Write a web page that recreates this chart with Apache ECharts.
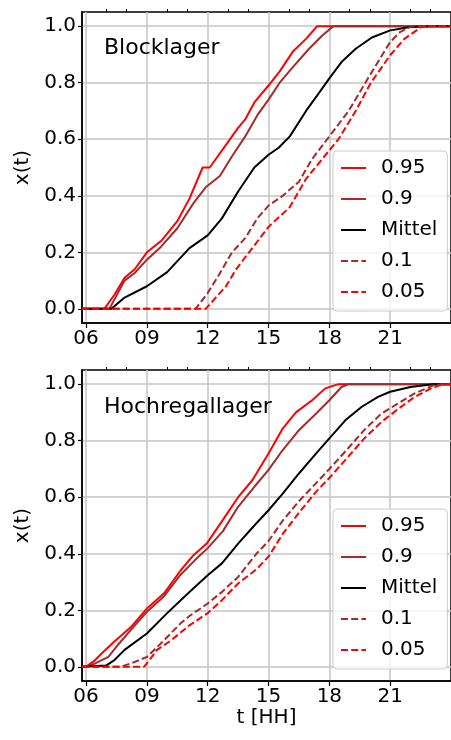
<!DOCTYPE html>
<html>
<head>
<meta charset="utf-8">
<script src="https://cdn.jsdelivr.net/npm/echarts@6/dist/echarts.min.js"></script>
<style>
  html, body { margin: 0; padding: 0; background: #fff; }
  #chart { width: 451px; height: 740px; }
</style>
</head>
<body>
<div id="chart"></div>
<script>
// Blocklager: [t in hours, x(t)]
const blockQ95 = [[5.8, 0], [6.9, 0], [7.4, 0.05], [7.9, 0.11], [8.4, 0.14], [9.0, 0.2], [9.7, 0.24], [10.5, 0.31], [11.1, 0.39], [11.75, 0.5], [12.1, 0.5], [12.4, 0.53], [12.9, 0.58], [13.5, 0.64], [13.85, 0.67], [14.3, 0.73], [15.0, 0.79], [15.55, 0.84], [16.2, 0.91], [16.85, 0.955], [17.4, 1.0], [24, 1.0]]
const blockQ90 = [[5.8, 0], [7.15, 0], [7.9, 0.1], [8.4, 0.127], [9.0, 0.174], [9.7, 0.22], [10.5, 0.285], [11.3, 0.374], [11.9, 0.43], [12.6, 0.47], [13.2, 0.54], [13.85, 0.61], [14.45, 0.685], [15.0, 0.74], [15.55, 0.8], [16.2, 0.855], [17.0, 0.92], [17.65, 0.967], [18.2, 1.0], [24, 1.0]]
const blockMean = [[5.8, 0], [7.25, 0], [7.9, 0.04], [9.0, 0.08], [10.0, 0.13], [11.1, 0.215], [12.0, 0.26], [12.7, 0.32], [13.5, 0.415], [14.3, 0.5], [15.0, 0.545], [15.5, 0.57], [16.05, 0.61], [16.85, 0.7], [17.5, 0.765], [18.0, 0.815], [18.6, 0.873], [19.3, 0.92], [20.1, 0.96], [21.0, 0.985], [22.0, 0.997], [23.1, 1.0], [24, 1.0]]
const blockQ10 = [[5.8, 0], [11.4, 0], [12.0, 0.056], [12.55, 0.12], [13.2, 0.2], [13.85, 0.25], [14.45, 0.32], [15.0, 0.365], [15.7, 0.4], [16.5, 0.45], [17.15, 0.53], [18.0, 0.61], [18.95, 0.7], [19.9, 0.815], [21.0, 0.944], [21.5, 0.98], [22.1, 1.0], [24, 1.0]]
const blockQ05 = [[5.8, 0], [11.9, 0], [12.4, 0.04], [12.9, 0.08], [13.4, 0.14], [14.2, 0.215], [15.0, 0.29], [16.05, 0.36], [16.85, 0.46], [17.65, 0.53], [18.45, 0.6], [19.3, 0.7], [20.05, 0.8], [21.0, 0.897], [21.7, 0.955], [22.6, 1.0], [24, 1.0]]

// Hochregallager
const hochQ95 = [[5.8, 0], [6.0, 0], [6.45, 0.024], [6.95, 0.06], [7.4, 0.09], [8.2, 0.14], [9.0, 0.206], [9.85, 0.26], [10.65, 0.34], [11.3, 0.395], [11.95, 0.436], [12.75, 0.52], [13.5, 0.6], [14.2, 0.66], [15.0, 0.755], [15.7, 0.843], [16.35, 0.9], [17.15, 0.943], [17.8, 0.985], [18.45, 1.0], [24, 1.0]]
const hochQ90 = [[5.8, 0], [6.0, 0], [6.45, 0.012], [7.1, 0.035], [7.6, 0.08], [8.2, 0.13], [9.0, 0.195], [9.85, 0.25], [10.65, 0.325], [11.45, 0.383], [12.0, 0.42], [12.75, 0.48], [13.5, 0.566], [14.3, 0.637], [15.0, 0.697], [15.7, 0.767], [16.5, 0.837], [17.35, 0.896], [18.0, 0.943], [18.6, 0.99], [18.95, 1.0], [24, 1.0]]
const hochMean = [[5.8, 0], [7.0, 0.005], [7.4, 0.024], [7.9, 0.06], [9.0, 0.118], [10.0, 0.19], [11.1, 0.265], [12.0, 0.324], [12.7, 0.366], [13.5, 0.436], [14.3, 0.5], [15.0, 0.554], [15.7, 0.613], [16.5, 0.684], [17.35, 0.755], [18.0, 0.808], [18.8, 0.873], [19.6, 0.92], [20.4, 0.955], [21.0, 0.973], [22.0, 0.99], [23.1, 1.0], [24, 1.0]]
const hochQ10 = [[5.8, 0], [7.7, 0], [8.2, 0.012], [9.0, 0.035], [9.85, 0.094], [10.65, 0.153], [11.1, 0.18], [12.0, 0.224], [12.7, 0.265], [13.5, 0.318], [14.4, 0.4], [15.0, 0.445], [15.7, 0.517], [16.5, 0.586], [17.35, 0.65], [18.0, 0.7], [18.95, 0.775], [19.75, 0.84], [20.55, 0.895], [21.35, 0.93], [22.15, 0.965], [23.1, 0.995], [23.6, 1.0], [24, 1.0]]
const hochQ05 = [[5.8, 0], [8.85, 0], [9.0, 0.012], [9.5, 0.06], [10.2, 0.094], [11.1, 0.147], [12.0, 0.19], [12.7, 0.236], [13.5, 0.295], [14.4, 0.345], [15.0, 0.39], [15.7, 0.47], [16.5, 0.545], [17.35, 0.62], [18.0, 0.668], [18.95, 0.745], [19.75, 0.81], [20.55, 0.865], [21.35, 0.91], [22.15, 0.952], [23.1, 0.988], [23.6, 1.0], [24, 1.0]]

const legendNames = ['0.95', '0.9', 'Mittel', '0.1', '0.05']
const panelTitles = ['Blocklager', 'Hochregallager']
const xMajorTicks = [6, 9, 12, 15, 18, 21]
const xMinorTicks = [7, 8, 10, 11, 13, 14, 16, 17, 19, 20, 22, 23]
const yMajorTicks = [0, 0.2, 0.4, 0.6, 0.8, 1.0]
const yMinorTicks = [0.1, 0.3, 0.5, 0.7, 0.9]

const FONT = 'DejaVu Sans'
const colors = ['#ff0000', '#a52a2a', '#000000', '#a52a2a', '#ff0000']
const dashed = [false, false, false, true, true]
const panels = [
  [blockQ95, blockQ90, blockMean, blockQ10, blockQ05],
  [hochQ95, hochQ90, hochMean, hochQ10, hochQ05]
]
const gridTops = [12, 370]
const gridHeight = 311

const chart = echarts.init(document.getElementById('chart'), null, { renderer: 'canvas' })

const grid = []
const xAxis = []
const yAxis = []
const series = []
const legend = []
const title = []

panels.forEach((panel, p) => {
  grid.push({
    left: 82,
    top: gridTops[p],
    width: 378,
    height: gridHeight,
    show: true,
    borderColor: '#000',
    borderWidth: 1.5,
    backgroundColor: 'transparent'
  })
  // main x axis
  xAxis.push({
    type: 'value',
    gridIndex: p,
    min: 5.8,
    max: 24,
    name: p === 1 ? 't [HH]' : '',
    nameLocation: 'middle',
    nameGap: 27,
    nameTextStyle: { fontFamily: FONT, fontSize: 20, color: '#000' },
    axisLine: { show: true, onZero: false, lineStyle: { color: '#000', width: 1.5 } },
    axisTick: { show: true, customValues: xMajorTicks, length: 5, lineStyle: { color: '#000', width: 1.2 } },
    axisLabel: {
      customValues: xMajorTicks,
      margin: 6,
      fontFamily: FONT,
      fontSize: 20,
      color: '#000',
      formatter: v => String(v).padStart(2, '0')
    },
    splitLine: { show: true, lineStyle: { color: '#c4c4c4', width: 1.5 } }
  })
  // minor ticks
  xAxis.push({
    type: 'value',
    gridIndex: p,
    min: 5.8,
    max: 24,
    axisLine: { show: false, onZero: false },
    axisTick: { show: true, customValues: xMinorTicks, length: 3, lineStyle: { color: '#000', width: 1 } },
    axisLabel: { show: false },
    splitLine: { show: false }
  })
  yAxis.push({
    type: 'value',
    gridIndex: p,
    min: -0.05,
    max: 1.05,
    name: 'x(t)',
    nameLocation: 'middle',
    nameGap: 47,
    nameTextStyle: { fontFamily: FONT, fontSize: 20, color: '#000' },
    axisLine: { show: true, onZero: false, lineStyle: { color: '#000', width: 1.5 } },
    axisTick: { show: true, customValues: yMajorTicks, length: 4, lineStyle: { color: '#000', width: 1.2 } },
    axisLabel: {
      customValues: yMajorTicks,
      margin: 6,
      fontFamily: FONT,
      fontSize: 20,
      color: '#000',
      formatter: v => v.toFixed(1)
    },
    splitLine: { show: true, lineStyle: { color: '#c4c4c4', width: 1.5 } }
  })
  yAxis.push({
    type: 'value',
    gridIndex: p,
    min: -0.05,
    max: 1.05,
    axisLine: { show: false, onZero: false },
    axisTick: { show: true, customValues: yMinorTicks, length: 3, lineStyle: { color: '#000', width: 1 } },
    axisLabel: { show: false },
    splitLine: { show: false }
  })

  panel.forEach((data, i) => {
    series.push({
      name: legendNames[i],
      type: 'line',
      xAxisIndex: p * 2,
      yAxisIndex: p * 2,
      data: data,
      symbol: 'none',
      showSymbol: false,
      animation: false,
      lineStyle: {
        color: colors[i],
        width: 2,
        type: dashed[i] ? [7, 3.2] : 'solid'
      },
      itemStyle: { color: colors[i] }
    })
  })

  legend.push({
    data: legendNames,
    orient: 'vertical',
    left: 333,
    top: p === 0 ? 151 : 509,
    padding: [7, 10, 9, 7],
    itemWidth: 25,
    itemHeight: 14,
    itemGap: 11,
    itemStyle: { opacity: 0 },
    backgroundColor: 'rgba(255,255,255,0.8)',
    borderColor: '#cccccc',
    borderWidth: 1,
    borderRadius: 4,
    selectedMode: false,
    textStyle: {
      fontFamily: FONT,
      fontSize: 20,
      lineHeight: 20,
      color: '#000',
      padding: [0, 0, 0, 10]
    }
  })

  title.push({
    text: panelTitles[p],
    left: 104,
    top: p === 0 ? 37 : 396,
    padding: 0,
    textStyle: { fontFamily: FONT, fontSize: 22, fontWeight: 'normal', color: '#000' }
  })
})

chart.setOption({
  animation: false,
  title: title,
  legend: legend,
  grid: grid,
  xAxis: xAxis,
  yAxis: yAxis,
  series: series
})
</script>
</body>
</html>
